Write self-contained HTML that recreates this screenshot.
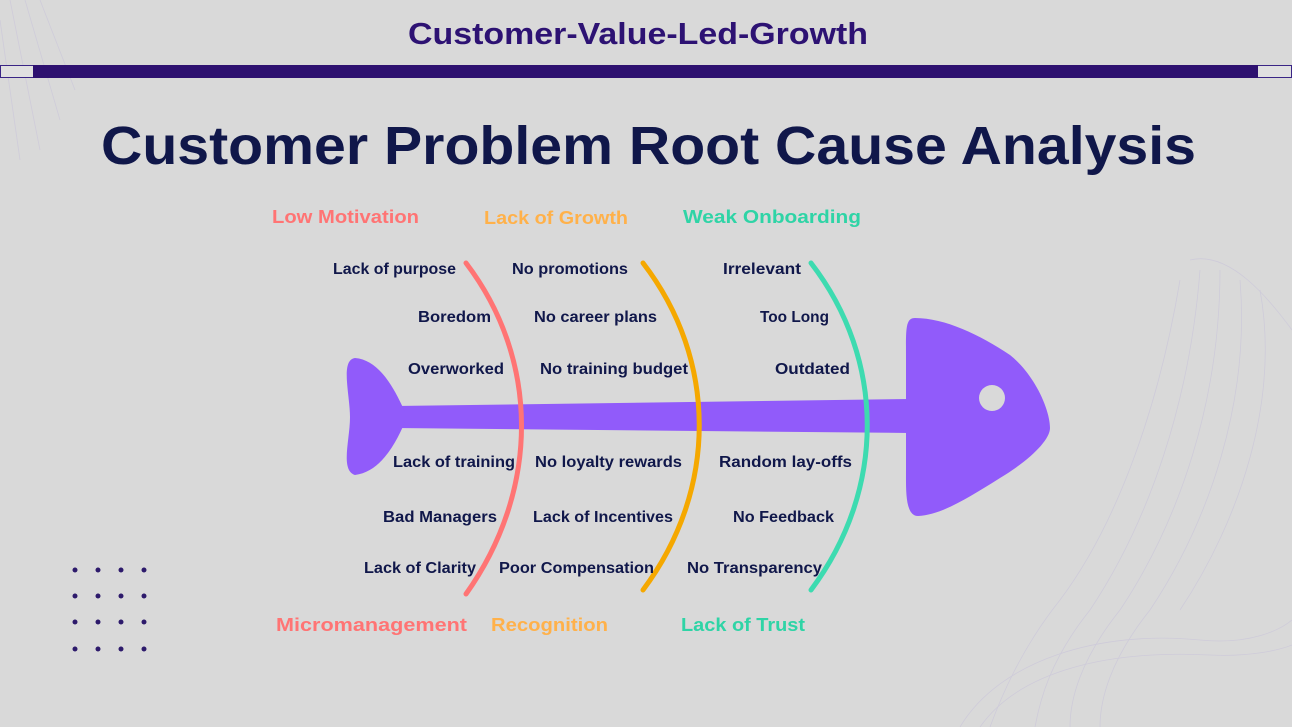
<!DOCTYPE html>
<html><head><meta charset="utf-8"><style>
html,body{margin:0;padding:0;background:#d9d9d9;}
body{width:1292px;height:727px;position:relative;overflow:hidden;font-family:"Liberation Sans",sans-serif;}
svg{position:absolute;left:0;top:0;}
</style></head><body>
<svg width="1292" height="727" viewBox="0 0 1292 727" xmlns="http://www.w3.org/2000/svg">
<g stroke="#ccc8da" fill="none" stroke-width="0.8" opacity="0.8">
<path d="M1190 260 C1230 250 1270 300 1292 330"/>
<path d="M1180 280 C1160 400 1120 520 1060 600 C1020 650 1000 700 990 727"/>
<path d="M1200 270 C1190 400 1150 520 1090 610 C1050 660 1040 700 1035 727"/>
<path d="M1220 270 C1220 400 1180 520 1120 610 C1080 660 1070 700 1070 727"/>
<path d="M1240 280 C1250 400 1210 520 1150 610 C1110 660 1100 700 1100 727"/>
<path d="M1260 290 C1280 400 1240 520 1180 610"/>
<path d="M960 727 C1000 660 1100 630 1200 640 C1250 645 1280 630 1292 620"/>
<path d="M980 727 C1020 670 1110 650 1210 655 C1250 657 1280 650 1292 645"/>
<path d="M0 20 L20 160 M10 0 L40 150 M25 0 L60 120 M40 0 L75 90"/>
</g>
<text x="408" y="44" textLength="460" lengthAdjust="spacingAndGlyphs" font-family="Liberation Sans" font-weight="bold" font-size="31" fill="#2d1273">Customer-Value-Led-Growth</text>
<rect x="0.5" y="65.5" width="1291" height="12" fill="#e0e0e0" stroke="#3a2585" stroke-width="1"/>
<rect x="33" y="65" width="1225" height="13" fill="#2e1170"/>
<text x="101" y="164" textLength="1095" lengthAdjust="spacingAndGlyphs" font-family="Liberation Sans" font-weight="bold" font-size="54" fill="#10174a">Customer Problem Root Cause Analysis</text>
<g font-family="Liberation Sans" font-weight="bold" font-size="18" lengthAdjust="spacingAndGlyphs">
<text x="272" y="223" textLength="147" lengthAdjust="spacingAndGlyphs" fill="#ff7474">Low Motivation</text>
<text x="484" y="224" textLength="144" lengthAdjust="spacingAndGlyphs" fill="#ffb14a">Lack of Growth</text>
<text x="683" y="223" textLength="178" lengthAdjust="spacingAndGlyphs" fill="#2fd4a6">Weak Onboarding</text>
<text x="276" y="631" textLength="191" lengthAdjust="spacingAndGlyphs" fill="#ff7474">Micromanagement</text>
<text x="491" y="631" textLength="117" lengthAdjust="spacingAndGlyphs" fill="#ffb14a">Recognition</text>
<text x="681" y="631" textLength="124" lengthAdjust="spacingAndGlyphs" fill="#2fd4a6">Lack of Trust</text>
</g>
<g fill="#915bfa">
<path d="M395 406 L910 399 L910 433 L395 428 Z"/>
<path d="M355 358 C380 360 395 390 405 412 L405 422 C395 445 380 472 355 475 C340 470 350 440 350 417 C350 395 340 360 355 358 Z"/>
<path d="M915 318 C945 318 980 335 1010 355 C1035 375 1050 410 1050 428 C1050 440 1030 460 1000 478 C965 500 940 515 918 516 C905 516 906 490 906 470 L906 360 C906 330 905 318 915 318 Z"/>
</g>
<circle cx="992" cy="398" r="13" fill="#d9d9d9"/>
<g fill="none" stroke-linecap="round">
<path d="M466 263 C540 360 540 490 466 594" stroke="#ff7474" stroke-width="5"/>
<path d="M643 263 C718 360 718 490 643 590" stroke="#f5a800" stroke-width="5"/>
<path d="M811 263 C886 360 886 490 811 590" stroke="#3ddbb0" stroke-width="5"/>
</g>
<g font-family="Liberation Sans" font-weight="bold" font-size="15.5" fill="#10174a">
<text x="333" y="274" textLength="123" lengthAdjust="spacingAndGlyphs">Lack of purpose</text>
<text x="418" y="322" textLength="73" lengthAdjust="spacingAndGlyphs">Boredom</text>
<text x="408" y="374" textLength="96" lengthAdjust="spacingAndGlyphs">Overworked</text>
<text x="393" y="467" textLength="122" lengthAdjust="spacingAndGlyphs">Lack of training</text>
<text x="383" y="522" textLength="114" lengthAdjust="spacingAndGlyphs">Bad Managers</text>
<text x="364" y="573" textLength="112" lengthAdjust="spacingAndGlyphs">Lack of Clarity</text>
<text x="512" y="274" textLength="116" lengthAdjust="spacingAndGlyphs">No promotions</text>
<text x="534" y="322" textLength="123" lengthAdjust="spacingAndGlyphs">No career plans</text>
<text x="540" y="374" textLength="148" lengthAdjust="spacingAndGlyphs">No training budget</text>
<text x="535" y="467" textLength="147" lengthAdjust="spacingAndGlyphs">No loyalty rewards</text>
<text x="533" y="522" textLength="140" lengthAdjust="spacingAndGlyphs">Lack of Incentives</text>
<text x="499" y="573" textLength="155" lengthAdjust="spacingAndGlyphs">Poor Compensation</text>
<text x="723" y="274" textLength="78" lengthAdjust="spacingAndGlyphs">Irrelevant</text>
<text x="760" y="322" textLength="69" lengthAdjust="spacingAndGlyphs">Too Long</text>
<text x="775" y="374" textLength="75" lengthAdjust="spacingAndGlyphs">Outdated</text>
<text x="719" y="467" textLength="133" lengthAdjust="spacingAndGlyphs">Random lay-offs</text>
<text x="733" y="522" textLength="101" lengthAdjust="spacingAndGlyphs">No Feedback</text>
<text x="687" y="573" textLength="135" lengthAdjust="spacingAndGlyphs">No Transparency</text>
</g>
<g fill="#2d1a6b">
<circle cx="75" cy="570" r="2.5"/><circle cx="98" cy="570" r="2.5"/><circle cx="121" cy="570" r="2.5"/><circle cx="144" cy="570" r="2.5"/>
<circle cx="75" cy="596" r="2.5"/><circle cx="98" cy="596" r="2.5"/><circle cx="121" cy="596" r="2.5"/><circle cx="144" cy="596" r="2.5"/>
<circle cx="75" cy="622" r="2.5"/><circle cx="98" cy="622" r="2.5"/><circle cx="121" cy="622" r="2.5"/><circle cx="144" cy="622" r="2.5"/>
<circle cx="75" cy="649" r="2.5"/><circle cx="98" cy="649" r="2.5"/><circle cx="121" cy="649" r="2.5"/><circle cx="144" cy="649" r="2.5"/>
</g>
</svg>
</body></html>
